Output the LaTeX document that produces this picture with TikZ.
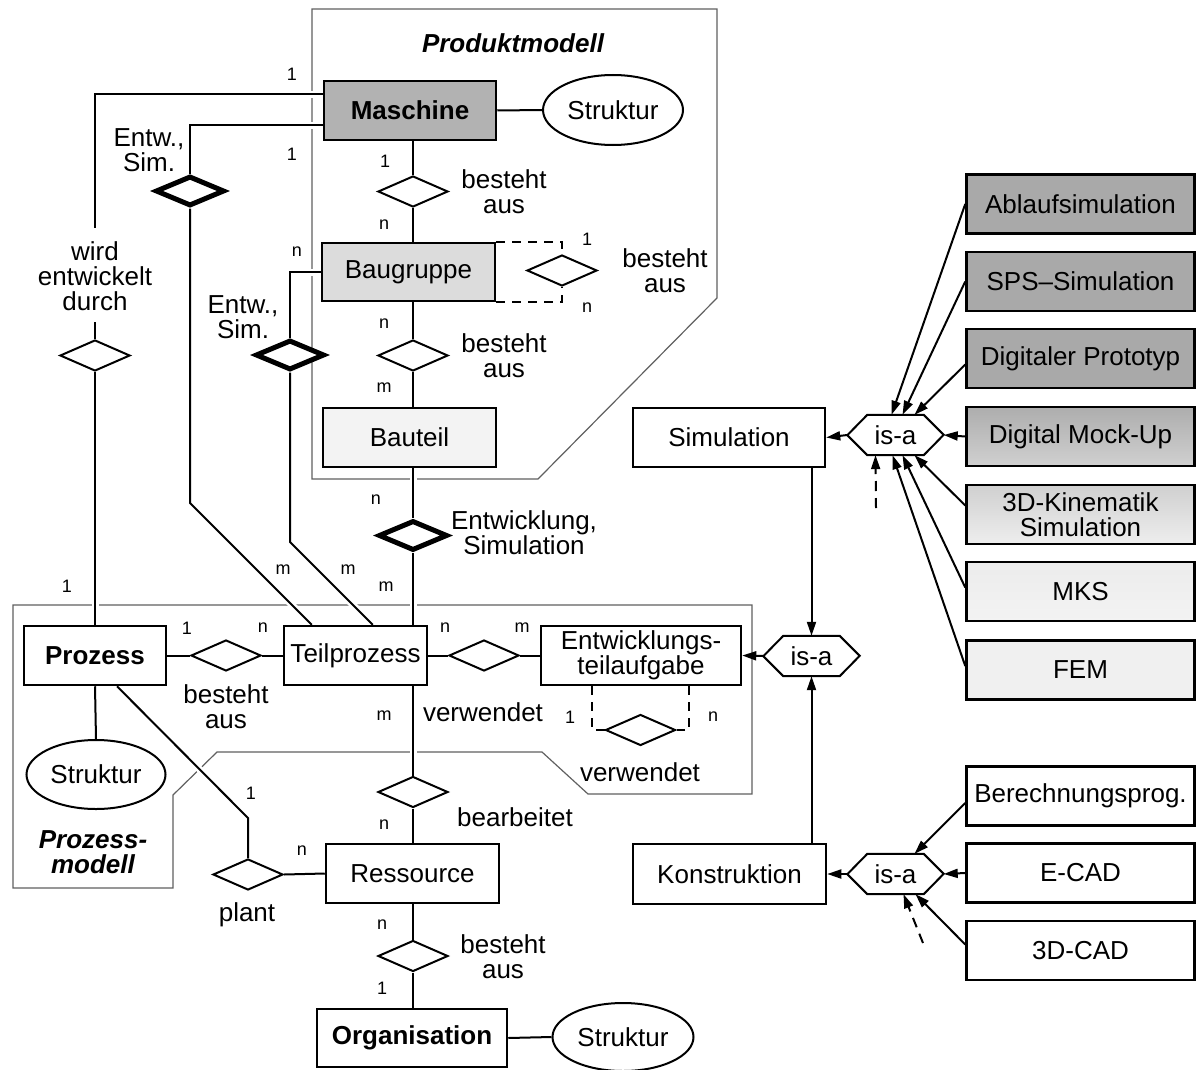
\documentclass[tikz,border=0pt]{standalone}
\usepackage{fontspec}
\setmainfont{Liberation Sans}
\usetikzlibrary{shapes.geometric,arrows.meta,calc}

\pgfdeclarelayer{frames}
\pgfdeclarelayer{lines}
\pgfsetlayers{frames,lines,main}

\definecolor{cMasch}{HTML}{B2B2B2}
\definecolor{cBaug}{HTML}{DCDCDC}
\definecolor{cBaut}{HTML}{F3F3F3}
\definecolor{cDark}{HTML}{A9A9A9}
\definecolor{cFrame}{HTML}{606060}

\tikzset{
  big/.style={font=\fontsize{26}{25}\selectfont},
  bigbf/.style={font=\fontsize{26}{25}\selectfont\bfseries},
  small/.style={font=\fontsize{18}{18}\selectfont},
  ent/.style={draw, rectangle, line width=2.5pt, inner sep=0pt, align=center, fill=white, big},
  rel/.style={draw, diamond, line width=2pt, inner sep=0pt, minimum width=70, minimum height=31, fill=white},
  strongrel/.style={rel, line width=5pt, minimum width=69, minimum height=30},
  attr/.style={draw, ellipse, line width=2pt, inner sep=0pt, fill=white, big},
  conn/.style={line width=2pt},
  cross/.style={conn, preaction={draw=white, line width=7pt}},
  selfrel/.style={line width=2pt, dash pattern=on 9pt off 7pt},
  frame/.style={draw=cFrame, line width=1.2pt},
  isa/.style={line width=2pt, -{Triangle[length=14pt,width=9pt]}},
  hexcore/.style={inner sep=0pt, minimum width=56, minimum height=40, big},
  right box/.style={ent, minimum width=228, minimum height=59},
}

\newcommand{\isahex}[3]{%
  \node[hexcore] (#1) at (#2,#3) {is-a};
  \draw[line width=2pt] (#1.north west) -- (#1.north east) -- ++(20,20)
    -- (#1.south east) -- (#1.south west) -- ++(-20,-20) -- cycle;
  \coordinate (#1w) at ($(#1.west)+(-20,0)$);
  \coordinate (#1e) at ($(#1.east)+(20,0)$);
}

\begin{document}
\begin{tikzpicture}[x=1pt,y=-1pt]
\useasboundingbox (0,0) rectangle (1196,1070);

% ---------- product model ----------
\node[ent, fill=cMasch, bigbf, minimum width=172, minimum height=59] (masch) at (410,110.5) {Maschine};
\node[attr, minimum width=140, minimum height=70] (str1) at (613,110) {Struktur};
\node[rel] (d1) at (413,191.5) {};
\node[ent, fill=cBaug, minimum width=173, minimum height=58] (baug) at (408.5,272) {Baugruppe};
\node[rel] (d2) at (562,270.5) {};
\node[rel] (d3) at (413,355.5) {};
\node[ent, fill=cBaut, minimum width=173, minimum height=59] (baut) at (409.5,437.5) {Bauteil};
\node[strongrel] (d4) at (413,535.5) {};
\node[strongrel] (de1) at (190,191) {};
\node[strongrel] (de2) at (290,355) {};
\node[rel] (dw) at (95,355.5) {};

% ---------- process model ----------
\node[ent, bigbf, minimum width=142, minimum height=59] (proz) at (95,655.5) {Prozess};
\node[ent, minimum width=143, minimum height=59] (teil) at (355.5,655.5) {Teilprozess};
\node[ent, minimum width=200, minimum height=59] (eta) at (641,655.5) {Entwicklungs-\\teilaufgabe};
\node[rel] (d5) at (226,655.5) {};
\node[rel] (d6) at (484,655.5) {};
\node[rel] (d7) at (640.5,730) {};
\node[attr, minimum width=139, minimum height=69] (str2) at (96,774.5) {Struktur};
\node[rel] (d8) at (413,792) {};
\node[ent, minimum width=173, minimum height=59] (ress) at (412.5,873.5) {Ressource};
\node[rel] (d9) at (248,874.5) {};
\node[rel] (d10) at (413,956) {};
\node[ent, bigbf, minimum width=190, minimum height=58] (org) at (412,1038) {Organisation};
\node[attr, minimum width=141, minimum height=68] (str3) at (623,1037) {Struktur};

% ---------- tools ----------
\node[ent, minimum width=192, minimum height=59] (sim) at (729,437.5) {Simulation};
\node[ent, minimum width=193, minimum height=60] (kon) at (729.5,874) {Konstruktion};

\node[right box, fill=cDark] (abl) at (1080.5,204) {Ablaufsimulation};
\node[right box, fill=cDark] (sps) at (1080.5,281.5) {SPS–Simulation};
\node[right box, fill=cDark] (dpr) at (1080.5,358.5) {Digitaler Prototyp};
\node[right box, top color=cDark!95!white, bottom color=cDark!55!white] (dmu) at (1080.5,436.5) {Digital Mock-Up};
\node[right box, top color=cDark!55!white, bottom color=cDark!20!white] (kin) at (1080.5,514.5) {3D-Kinematik\\Simulation};
\node[right box, top color=cDark!22!white, bottom color=cDark!14!white] (mks) at (1080.5,591.5) {MKS};
\node[right box, fill=cDark!18!white] (fem) at (1080.5,670) {FEM};
\node[right box] (ber) at (1080.5,796) {Berechnungsprog.};
\node[right box] (ecad) at (1080.5,873) {E-CAD};
\node[right box] (cad3) at (1080.5,950.5) {3D-CAD};

\isahex{iS}{895.5}{435}
\isahex{iE}{811.5}{656}
\isahex{iK}{895.5}{874}

% ---------- relationship texts ----------
\node[big, align=center] (t1) at (504,192) {besteht\\aus};
\node[big, align=center] (t2) at (665,271) {besteht\\aus};
\node[big, align=center] (t3) at (504,356) {besteht\\aus};
\node[big, align=center] (t4) at (524,533) {Entwicklung,\\Simulation};
\node[big, align=center] (t5) at (149,150) {Entw.,\\Sim.};
\node[big, align=center] (t6) at (243,317) {Entw.,\\Sim.};
\node[big, align=center] (t7) at (95,276) {wird\\entwickelt\\durch};
\node[big, align=center] (t8) at (226,707) {besteht\\aus};
\node[big] (t9) at (483,712) {verwendet};
\node[big] (t10) at (640,772) {verwendet};
\node[big] (t11) at (515,817) {bearbeitet};
\node[big] (t12) at (247,915) {plant};
\node[big, align=center] (t13) at (503,957) {besteht\\aus};
\node[font=\fontsize{26}{25}\selectfont\bfseries\itshape] (pm) at (513,43) {Produktmodell};
\node[font=\fontsize{26}{25}\selectfont\bfseries\itshape, align=center] (vm) at (93,852) {Prozess-\\modell};

% ---------- cardinalities ----------
\foreach \txt/\px/\py in {1/292/74, 1/292/154, 1/385/161, n/384/225, 1/587/239, n/587/308,
    n/297/252, n/384/324, m/384/388, n/376/500, m/386/587, m/283/570, m/348/570,
    1/67/586, 1/187/628, n/263/628, n/445/628, m/522/628, m/384/716, n/384/825,
    1/570/717, n/713/717, 1/251/793, n/302/851, n/382/925, 1/382/988}
  \node[small] at (\px,\py) {\txt};

% ---------- model frames ----------
\begin{pgfonlayer}{frames}
\draw[frame] (312,9) -- (717,9) -- (717,298) -- (538,479) -- (312,479) -- cycle;
\draw[frame] (13,605) -- (752,605) -- (752,794) -- (588,794) -- (542,752) -- (217,752)
  -- (173,795) -- (173,888) -- (13,888) -- cycle;
\end{pgfonlayer}

% ---------- connectors ----------
\begin{pgfonlayer}{lines}
\draw[conn] (masch.east) -- (str1.west);
\draw[conn] (d1.north |- masch.south) -- (d1.north);
\draw[conn] (d1.south) -- (d1.south |- baug.north);
\draw[selfrel] (baug.north east) -| (d2.north);
\draw[selfrel] (baug.south east) -| (d2.south);
\draw[conn] (d3.north |- baug.south) -- (d3.north);
\draw[conn] (d3.south) -- (d3.south |- baut.north);
\draw[cross] (d4.north |- baut.south) -- (d4.north);
\draw[cross] (d4.south) -- (d4.south |- teil.north);

\coordinate (wa) at (95,228);
\coordinate (wb) at (95,322);
\draw[cross] ($(masch.west)+(0,-16)$) -| (wa);
\draw[cross] (wb) -- (dw.north);
\draw[cross] (dw.south) -- (dw.south |- proz.north);

\coordinate (k1) at (190,503);
\coordinate (k2) at (290,542);
\draw[cross] ($(masch.west)+(0,15)$) -| (de1.north);
\draw[cross] (de1.south) -- (k1) -- ($(teil.north west)+(29,0)$);
\draw[cross] (baug.west) -| (de2.north);
\draw[cross] (de2.south) -- (k2) -- ($(teil.north west)+(90,0)$);

\draw[conn] (proz.east) -- (d5.west);
\draw[conn] (d5.east) -- (teil.west);
\draw[conn] (teil.east) -- (d6.west);
\draw[conn] (d6.east) -- (eta.west);
\draw[selfrel] ($(eta.south west)+(52,0)$) |- (d7.west);
\draw[selfrel] ($(eta.south east)+(-53,0)$) |- (d7.east);
\draw[conn] (proz.south) -- (str2.north);
\draw[cross] (d8.north |- teil.south) -- (d8.north);
\draw[conn] (d8.south) -- (d8.south |- ress.north);
\coordinate (p1) at (248,818);
\draw[cross] ($(proz.south)+(22,0)$) -- (p1) -- (d9.north);
\draw[conn] (ress.west) -- (d9.east);
\draw[conn] (d10.north |- ress.south) -- (d10.north);
\draw[conn] (d10.south) -- (d10.south |- org.north);
\draw[conn] (org.east) -- (str3.west);

% is-a: simulation tools
\draw[isa] (iSw) -- (sim.east);
\draw[isa] (dmu.west) -- (iSe);
\draw[isa] (abl.west) -- ($(iS.north)+(-4,0)$);
\draw[isa] (sps.west) -- ($(iS.north)+(7,0)$);
\draw[isa] ($(dpr.west)+(0,6)$) -- ($(iS.north)+(19,0)$);
\draw[isa] ($(kin.west)+(0,-9)$) -- ($(iS.south)+(19,0)$);
\draw[isa] ($(mks.west)+(0,-4)$) -- ($(iS.south)+(7,0)$);
\draw[isa] ($(fem.west)+(0,-4)$) -- ($(iS.south)+(-3,0)$);
\coordinate (q1) at (876,508);
\draw[isa, dash pattern=on 10pt off 7pt] (q1) -- ($(iS.south)+(-20,0)$);

% is-a: development tasks
\draw[isa] (iE.north |- sim.south) -- (iE.north);
\draw[isa] (iE.south |- kon.north) -- (iE.south);
\draw[isa] (iEw) -- (eta.east);

% is-a: design tools
\draw[isa] (iKw) -- (kon.east);
\draw[isa] (ecad.west) -- (iKe);
\draw[isa] ($(ber.west)+(0,7)$) -- ($(iK.north)+(19,0)$);
\draw[isa] ($(cad3.west)+(0,-6)$) -- ($(iK.south)+(20,0)$);
\coordinate (q2) at (923,943);
\draw[isa, dash pattern=on 10pt off 7pt] (q2) -- ($(iK.south)+(8,0)$);
\end{pgfonlayer}
\end{tikzpicture}
\end{document}
